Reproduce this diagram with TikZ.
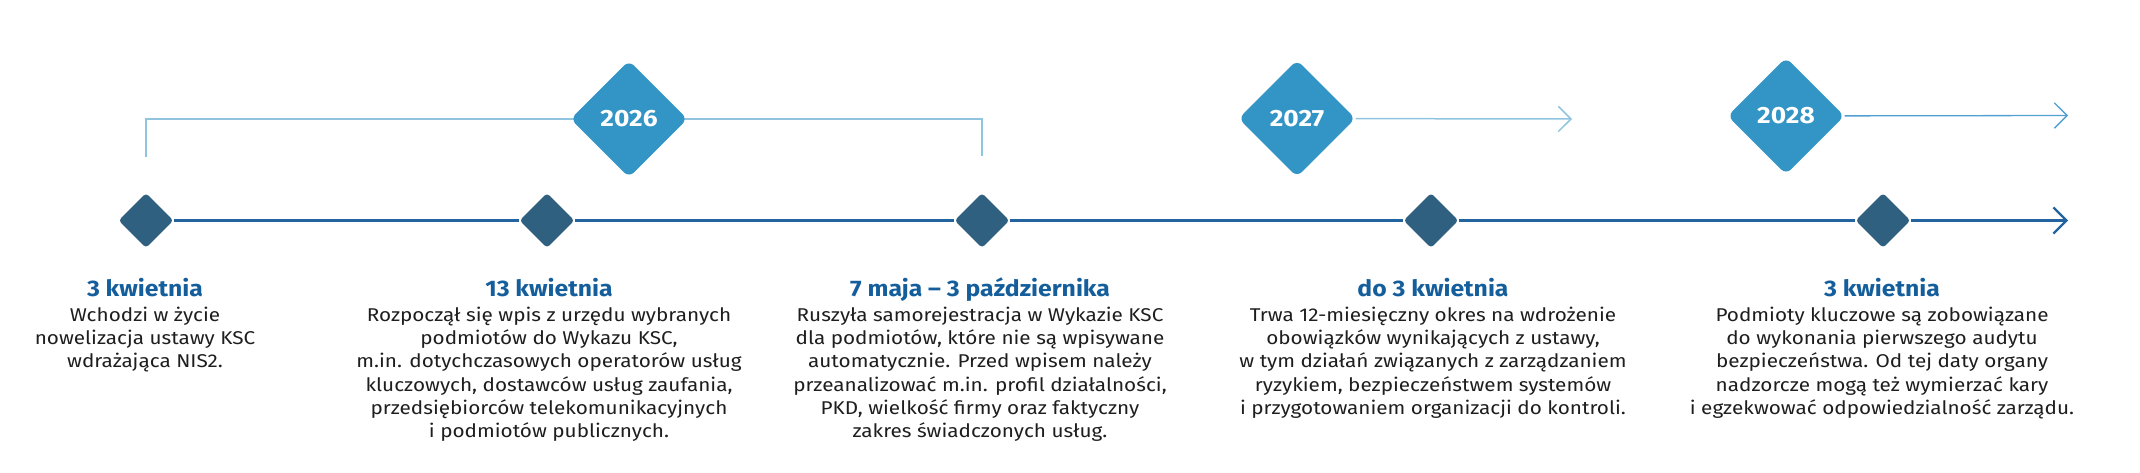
\documentclass[tikz,border=0pt]{standalone}
\usepackage{fontspec}
\setmainfont{Fira Sans}
\newfontfamily\bodyfam[FakeStretch=1.12]{Fira Sans}
\newfontfamily\titlefam[FakeStretch=1.1]{Fira Sans}
\newfontfamily\yearfam[FakeStretch=1.12]{Fira Sans}
\usetikzlibrary{shapes.geometric,arrows.meta}
\definecolor{bigdia}{RGB}{51,148,198}
\definecolor{smalldia}{RGB}{48,96,128}
\definecolor{mainline}{RGB}{35,100,160}
\definecolor{lightline}{RGB}{145,196,222}
\definecolor{midline}{RGB}{80,160,210}
\definecolor{titleblue}{RGB}{21,94,156}
\definecolor{bodytext}{RGB}{30,30,30}
\tikzset{
  smalld/.style={diamond, aspect=1, fill=smalldia, minimum width=55pt, minimum height=55pt, inner sep=0pt, rounded corners=3.5pt},
  bigd/.style={diamond, aspect=1, fill=bigdia, minimum width=117pt, minimum height=117pt, inner sep=0pt, rounded corners=7pt, text=white, font={\yearfam\bfseries\fontsize{23.5}{26}\selectfont}},
  ttl/.style={anchor=base, inner sep=0pt, text=titleblue, font={\titlefam\bfseries\fontsize{22.5}{26}\selectfont}},
  bodytxt/.style={anchor=north, inner sep=0pt, align=center, text=bodytext, font={\bodyfam\fontsize{18.5}{23.3}\selectfont}},
  mainln/.style={draw=mainline, line width=2.2pt},
  mainarrow/.style={draw=mainline, line width=2.2pt, -{Straight Barb[length=13pt,width=26pt]}},
  bracketln/.style={draw=lightline, line width=1.5pt},
  lightarrow/.style={draw=lightline, line width=1.5pt, -{Straight Barb[length=12.7pt,width=25.4pt]}},
  midarrow/.style={draw=midline, line width=1.3pt, -{Straight Barb[length=12.7pt,width=25.4pt]}},
}
\newcommand{\fl}{\rule{0pt}{14pt}}
\begin{document}
\begin{tikzpicture}[x=1pt,y=-1pt]
\useasboundingbox (0,0) rectangle (2140,473);
% small diamonds on the main line
\node[smalld] (d1) at (146,220.5) {};
\node[smalld] (d2) at (547,220.5) {};
\node[smalld] (d3) at (982,220.5) {};
\node[smalld] (d4) at (1431,220.5) {};
\node[smalld] (d5) at (1883,220.5) {};
\coordinate (mainend) at (2068,220.5);
\draw[mainln] (d1) -- (d2);
\draw[mainln] (d2) -- (d3);
\draw[mainln] (d3) -- (d4);
\draw[mainln] (d4) -- (d5);
\draw[mainarrow] (d5) -- (mainend);
% year lines
\coordinate (b1) at (146,157);
\coordinate (b2) at (982,156);
\coordinate (e27) at (1572,119);
\coordinate (e28) at (2068,115.5);
\coordinate (y26pos) at (629,119);
\draw[bracketln] (b1) |- (y26pos);
\draw[bracketln] (y26pos) -| (b2);
\node[bigd] (y26) at (y26pos) {2026};
\node[bigd] (y27) at (1297,118.5) {2027};
\node[bigd] (y28) at (1786,116) {2028};
\draw[lightarrow] (y27) -- (e27);
\draw[midarrow] (y28) -- (e28);
% titles
\node[ttl] (t1) at (145,296) {3 kwietnia};
\node[ttl] (t2) at (549,296) {13 kwietnia};
\node[ttl] (t3) at (980,296) {7 maja – 3 października};
\node[ttl] (t4) at (1433,296) {do 3 kwietnia};
\node[ttl] (t5) at (1882,296) {3 kwietnia};
% body texts
\node[bodytxt] (x1) at (145,306.7) {\fl Wchodzi w życie\\nowelizacja ustawy KSC\\wdrażająca NIS2.};
\node[bodytxt] (x2) at (549,306.7) {\fl Rozpoczął się wpis z urzędu wybranych\\podmiotów do Wykazu KSC,\\m.in. dotychczasowych operatorów usług\\kluczowych, dostawców usług zaufania,\\przedsiębiorców telekomunikacyjnych\\i podmiotów publicznych.};
\node[bodytxt] (x3) at (980,306.7) {\fl Ruszyła samorejestracja w Wykazie KSC\\dla podmiotów, które nie są wpisywane\\automatycznie. Przed wpisem należy\\przeanalizować m.in. profil działalności,\\PKD, wielkość firmy oraz faktyczny\\zakres świadczonych usług.};
\node[bodytxt] (x4) at (1433,306.7) {\fl Trwa 12-miesięczny okres na wdrożenie\\obowiązków wynikających z ustawy,\\w tym działań związanych z zarządzaniem\\ryzykiem, bezpieczeństwem systemów\\i przygotowaniem organizacji do kontroli.};
\node[bodytxt] (x5) at (1882,306.7) {\fl Podmioty kluczowe są zobowiązane\\do wykonania pierwszego audytu\\bezpieczeństwa. Od tej daty organy\\nadzorcze mogą też wymierzać kary\\i egzekwować odpowiedzialność zarządu.};
\end{tikzpicture}
\end{document}
